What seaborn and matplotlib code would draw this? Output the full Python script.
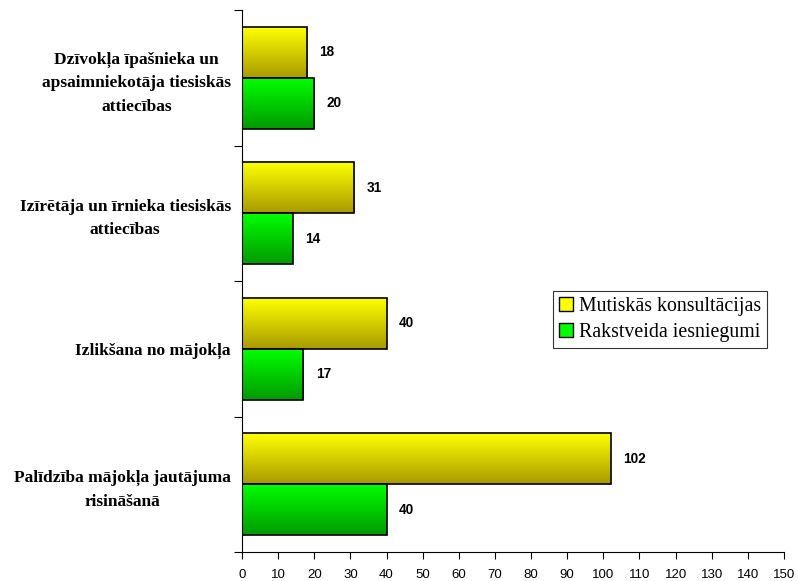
import numpy as np
import pandas as pd
import matplotlib
matplotlib.use("Agg")
import matplotlib.pyplot as plt
import seaborn as sns
from matplotlib.colors import LinearSegmentedColormap
from matplotlib.patches import Patch

categories = [
    "Dzīvokļa īpašnieka un\napsaimniekotāja tiesiskās\nattiecības",
    "Izīrētāja un īrnieka tiesiskās\nattiecības",
    "Izlikšana no mājokļa",
    "Palīdzība mājokļa jautājuma\nrisināšanā",
]
series_names = ["Mutiskās konsultācijas", "Rakstveida iesniegumi"]
oral = [18, 31, 40, 102]
written = [20, 14, 17, 40]
x_ticks = list(range(0, 151, 10))

df = pd.DataFrame({
    "cat": categories * 2,
    "series": [series_names[0]] * 4 + [series_names[1]] * 4,
    "value": oral + written,
})

sns.set_theme(style="white")
plt.rcParams["font.family"] = ["Liberation Sans", "DejaVu Sans"]
plt.rcParams["text.color"] = "black"
plt.rcParams["xtick.color"] = "black"
plt.rcParams["ytick.color"] = "black"

fig = plt.figure(figsize=(7.98, 5.81), dpi=100)
ax = fig.add_axes([242 / 798, 1 - 552 / 581, 542 / 798, 542 / 581])

top_colors = {series_names[0]: "#FFFF00", series_names[1]: "#00FF00"}
bot_colors = {series_names[0]: "#A89A00", series_names[1]: "#009A00"}

sns.barplot(data=df, x="value", y="cat", hue="series", order=categories,
            hue_order=series_names, orient="h", width=0.75, dodge=True,
            palette=top_colors, ax=ax, legend=False, saturation=1)

# gradient fills
for container, name in zip(ax.containers, series_names):
    cmap = LinearSegmentedColormap.from_list(name, [top_colors[name], bot_colors[name]])
    grad = np.linspace(0, 1, 256).reshape(-1, 1)
    for bar in container:
        x0, y0 = bar.get_x(), bar.get_y()
        w, h = bar.get_width(), bar.get_height()
        bar.set_facecolor("none")
        bar.set_edgecolor("black")
        bar.set_linewidth(1.2)
        bar.set_zorder(3)
        im = ax.imshow(grad, cmap=cmap, aspect="auto",
                       extent=(x0, x0 + w, y0 + h, y0), origin="upper", zorder=2)
        im.set_clip_path(bar)
    ax.bar_label(container, labels=[f"{v:.0f}" for v in container.datavalues],
                 padding=9, fontsize=9.8, fontweight="bold", color="black",
                 fontfamily="Liberation Sans")

ax.set_xlim(0, 150)
ax.set_ylim(len(categories) - 0.5, -0.5)

ax.set_xticks(x_ticks)
ax.set_xticklabels([str(t) for t in x_ticks], fontsize=9.5, color="black")
ax.set_yticks(np.arange(-0.5, len(categories), 1.0))
ax.set_yticklabels([])
ax.set_yticks(np.arange(len(categories)), minor=True)
ax.set_yticklabels(categories, minor=True, fontsize=12.5, fontweight="bold",
                   fontfamily="Liberation Serif", multialignment="center",
                   linespacing=1.6, color="black")
ax.tick_params(axis="y", which="minor", length=0, pad=8)
ax.tick_params(axis="y", which="major", length=6, width=0.8, color="black", direction="out", left=True)
ax.tick_params(axis="x", which="major", length=5, width=0.8, color="black", direction="out", bottom=True, pad=7)
ax.set_xlabel("")
ax.set_ylabel("")

for s in ["top", "right"]:
    ax.spines[s].set_visible(False)
for s in ["left", "bottom"]:
    ax.spines[s].set_color("black")
    ax.spines[s].set_linewidth(0.8)
ax.grid(False)

handles = [Patch(facecolor=top_colors[n], edgecolor="black", linewidth=1.0) for n in series_names]
leg = ax.legend(handles, series_names, loc="upper left", bbox_to_anchor=(0.574, 0.4815),
                prop={"family": "Liberation Serif", "size": 14.3}, frameon=True,
                fancybox=False, edgecolor="black", handlelength=0.7, handleheight=0.7,
                handletextpad=0.3, borderpad=0.3, labelspacing=0.35, borderaxespad=0)
leg.get_frame().set_linewidth(0.8)
for t in leg.get_texts():
    t.set_color("black")

fig.savefig("out.png", dpi=100)
